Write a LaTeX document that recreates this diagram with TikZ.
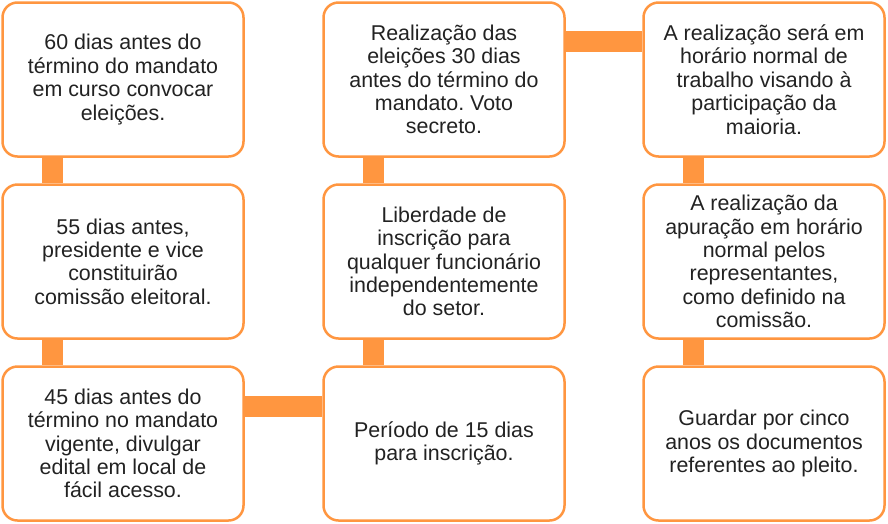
\documentclass[tikz,border=0pt]{standalone}
\usepackage{fontspec}
\setmainfont{Liberation Sans}
\usepackage{tikz}
\definecolor{laranja}{RGB}{255,150,64}
\definecolor{texto}{RGB}{34,34,34}
\frenchspacing

\begin{document}
\begin{tikzpicture}[x=1pt,y=-1pt,
        etapa/.style={draw=laranja, line width=2.5pt, fill=white, rounded corners=15pt,
            minimum width=241pt, minimum height=154pt, align=center, text=texto,
            font=\fontsize{21.4pt}{23.4pt}\selectfont},
        barra/.style={draw=laranja, line width=21pt}]

            \useasboundingbox (0,0) rectangle (888,523);

            \node (convocar) [etapa] at (123,79.5) {60 dias antes do\\término do mandato\\em curso convocar\\eleições.};
            \node (comissao) [etapa] at (123,261.5) {55 dias antes,\\presidente e vice\\constituirão\\comissão eleitoral.};
            \node (edital) [etapa] at (123,443.5) {45 dias antes do\\término no mandato\\vigente, divulgar\\edital em local de\\fácil acesso.};

            \node (eleicoes) [etapa] at (444,79.5) {Realização das\\eleições 30 dias\\antes do término do\\mandato. Voto\\secreto.};
            \node (liberdade) [etapa] at (444,261.5) {Liberdade de\\inscrição para\\qualquer funcionário\\independentemente\\do setor.};
            \node (inscricao) [etapa] at (444,443.5) {Período de 15 dias\\para inscrição.};

            \node (horario) [etapa] at (764,79.5) {A realização será em\\horário normal de\\trabalho visando à\\participação da\\maioria.};
            \node (apuracao) [etapa] at (764,261.5) {A realização da\\apuração em horário\\normal pelos\\representantes,\\como definido na\\comissão.};
            \node (guardar) [etapa] at (764,443.5) {Guardar por cinco\\anos os documentos\\referentes ao pleito.};

            % ligacoes
            \draw [barra] ([xshift=51pt]convocar.south west) -- ([xshift=51pt]comissao.north west);
            \draw [barra] ([xshift=51pt]comissao.south west) -- ([xshift=51pt]edital.north west);
            \draw [barra] ([yshift=-41pt]edital.north east) -- ([yshift=-41pt]inscricao.north west);
            \draw [barra] ([xshift=51pt]inscricao.north west) -- ([xshift=51pt]liberdade.south west);
            \draw [barra] ([xshift=51pt]liberdade.north west) -- ([xshift=51pt]eleicoes.south west);
            \draw [barra] ([yshift=-40pt]eleicoes.north east) -- ([yshift=-40pt]horario.north west);
            \draw [barra] ([xshift=51pt]horario.south west) -- ([xshift=51pt]apuracao.north west);
            \draw [barra] ([xshift=51pt]apuracao.south west) -- ([xshift=51pt]guardar.north west);

        \end{tikzpicture}
\end{document}
